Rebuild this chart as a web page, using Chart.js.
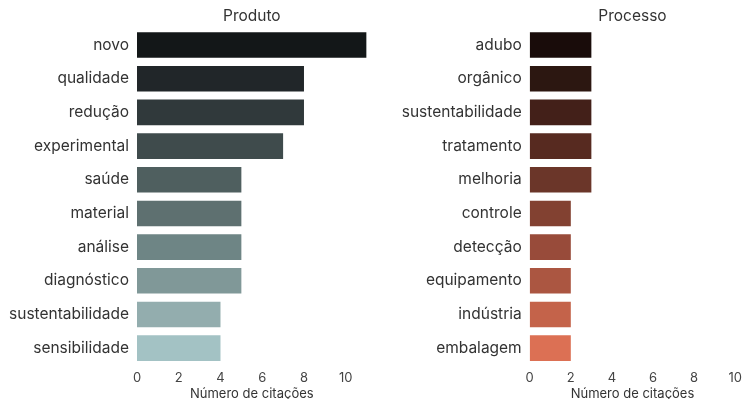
<!DOCTYPE html>
<html>
<head>
<meta charset="utf-8">
<script src="https://cdn.jsdelivr.net/npm/chart.js@4/dist/chart.umd.min.js"></script>
<style>
    body { margin: 0; background: #ffffff; }
    #wrap { position: relative; width: 747px; height: 399px; }
    .panel { position: absolute; top: 0; height: 399px; }
</style>
</head>
<body>
<div id="wrap">
    <div class="panel" style="left:0; width:373px;"><canvas id="produtoChart"></canvas></div>
    <div class="panel" style="left:373px; width:374px;"><canvas id="processoChart"></canvas></div>
</div>
<script>
// termos e contagens
const produtoTerms = ["novo", "qualidade", "redução", "experimental", "saúde", "material", "análise", "diagnóstico", "sustentabilidade", "sensibilidade"];
const produtoCounts = [11, 8, 8, 7, 5, 5, 5, 5, 4, 4];
const produtoColors = ["#131718", "#212629", "#30393b", "#3f4b4c", "#4f5f5f", "#5e7070", "#6e8585", "#809898", "#93adae", "#a3c2c4"];

const processoTerms = ["adubo", "orgânico", "sustentabilidade", "tratamento", "melhoria", "controle", "detecção", "equipamento", "indústria", "embalagem"];
const processoCounts = [3, 3, 3, 3, 3, 2, 2, 2, 2, 2];
const processoColors = ["#190c0a", "#2c1711", "#432019", "#572a20", "#6b3629", "#824131", "#984b3a", "#ab5641", "#c4634a", "#dc7054"];

const xTicks = [0, 2, 4, 6, 8, 10];

Chart.defaults.font.family = "Inter, 'Liberation Sans', sans-serif";
Chart.defaults.color = "#333333";

function renderPanel(id, title, labels, values, colors, xMax, yWidth, rightPad) {
    let ctx = document.getElementById(id).getContext("2d");

    new Chart(ctx, {
        type: "bar",
        data: {
            labels: labels,
            datasets: [{
                data: values,
                backgroundColor: colors,
                borderWidth: 0,
                barPercentage: 1,
                categoryPercentage: 0.76
            }]
        },
        options: {
            indexAxis: "y",
            responsive: true,
            maintainAspectRatio: false,
            animation: false,
            layout: { padding: { left: 0, right: rightPad, top: 0, bottom: 0 } },
            plugins: {
                legend: { display: false },
                tooltip: { enabled: false }
            },
            scales: {
                x: {
                    min: 0,
                    max: xMax,
                    grid: { display: false, drawTicks: false },
                    border: { display: false },
                    afterBuildTicks: function (scale) {
                        scale.ticks = xTicks.filter(v => v <= xMax).map(v => ({ value: v }));
                    },
                    afterFit: function (scale) { scale.height = 34; },
                    ticks: {
                        color: "#444444",
                        font: { size: 13 },
                        padding: 5,
                        maxRotation: 0
                    },
                    title: {
                        display: true,
                        text: "Número de citações",
                        color: "#333333",
                        font: { size: 13 },
                        padding: { top: 0, bottom: -3 }
                    }
                },
                // eixo de cima so para o titulo ficar centrado sobre as barras
                top: {
                    axis: "x",
                    position: "top",
                    min: 0,
                    max: xMax,
                    grid: { display: false, drawTicks: false },
                    border: { display: false },
                    ticks: { display: false },
                    afterFit: function (scale) { scale.height = 28.2; },
                    title: {
                        display: true,
                        text: title,
                        color: "#333333",
                        font: { size: 15.5 },
                        padding: { top: 7, bottom: 0 }
                    }
                },
                y: {
                    grid: { display: false, drawTicks: false },
                    border: { display: false },
                    afterFit: function (scale) { scale.width = yWidth; },
                    ticks: {
                        color: "#333333",
                        font: { size: 15.5 },
                        padding: 8
                    }
                }
            }
        }
    });
}

renderPanel("produtoChart", "Produto", produtoTerms, produtoCounts, produtoColors, 11, 137, 6.4);
renderPanel("processoChart", "Processo", processoTerms, processoCounts, processoColors, 10, 156.7, 8);
</script>
</body>
</html>
